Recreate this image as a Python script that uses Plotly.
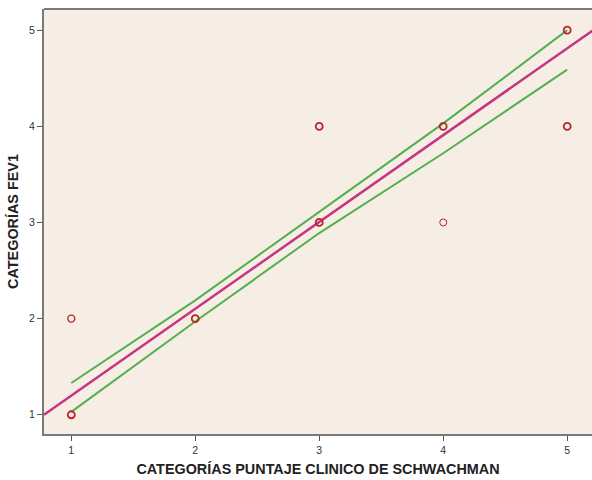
import plotly.graph_objects as go

# Observed points (Schwachman category vs FEV1 category)
pts_x = [1, 1, 2, 3, 3, 4, 4, 5, 5]
pts_y = [1, 2, 2, 3, 4, 4, 3, 5, 4]
pts_w = [1.8, 1.4, 1.8, 1.8, 1.8, 1.8, 1.0, 1.8, 1.8]

# Fitted regression line
fit_x = [0.78, 5.22]
fit_y = [1.0, 5.01]

# Confidence band of the mean
band_x = [1, 2, 3, 4, 5]
upper_y = [1.33, 2.19, 3.11, 4.03, 5.0]
lower_y = [1.03, 1.97, 2.89, 3.72, 4.59]

x_ticks = [1, 2, 3, 4, 5]
y_ticks = [1, 2, 3, 4, 5]

fig = go.Figure()
fig.add_trace(go.Scatter(x=band_x, y=upper_y, mode="lines",
                         line=dict(color="#52B04E", width=2), hoverinfo="skip"))
fig.add_trace(go.Scatter(x=band_x, y=lower_y, mode="lines",
                         line=dict(color="#52B04E", width=2), hoverinfo="skip"))
fig.add_trace(go.Scatter(x=fit_x, y=fit_y, mode="lines",
                         line=dict(color="#C6357F", width=2.5), hoverinfo="skip"))
fig.add_trace(go.Scatter(x=pts_x, y=pts_y, mode="markers",
                         marker=dict(symbol="circle-open", size=7, color="#B8262A",
                                     line=dict(width=pts_w, color="#B8262A"))))

fig.add_shape(type="line", xref="paper", yref="paper", x0=0, x1=1, y0=1, y1=1,
              line=dict(color="#7A7A7A", width=2))

fig.update_layout(
    width=592, height=480,
    margin=dict(l=44, r=0, t=9, b=46, autoexpand=False),
    paper_bgcolor="white",
    plot_bgcolor="#F6EDE4",
    showlegend=False,
    font=dict(family="Liberation Sans, Arial, sans-serif", color="#333333"),
)
fig.update_xaxes(range=[0.78, 5.2], tickvals=x_ticks, ticks="outside", ticklen=5,
                 tickcolor="#555555", tickfont=dict(size=10.5, color="#333333"),
                 showgrid=False, zeroline=False, showline=True, linecolor="#7A7A7A",
                 linewidth=2, automargin=False,
                 title=dict(text="<b>CATEGORÍAS PUNTAJE CLINICO DE SCHWACHMAN</b>",
                            font=dict(size=14.4, color="#222222"), standoff=9))
fig.update_yaxes(range=[0.8, 5.22], tickvals=y_ticks, ticks="outside", ticklen=5,
                 tickcolor="#555555", tickfont=dict(size=10.5, color="#333333"),
                 showgrid=False, zeroline=False, showline=True, linecolor="#7A7A7A",
                 linewidth=2, automargin=False,
                 title=dict(text="<b>CATEGORÍAS FEV1</b>",
                            font=dict(size=14.4, color="#222222"), standoff=7))

fig.write_html(
    "out.html",
    config={"displayModeBar": False},
    post_script="document.body.style.margin='0';document.documentElement.style.overflow='hidden';document.body.style.overflow='hidden';",
)
